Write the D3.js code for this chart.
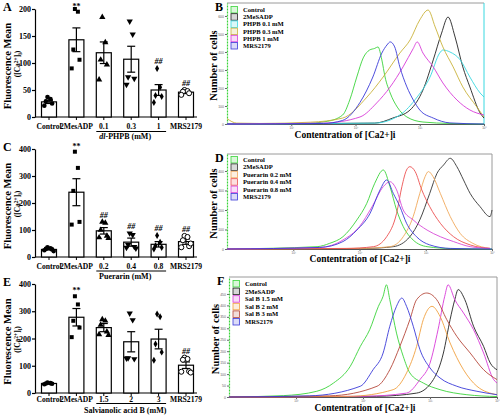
<!DOCTYPE html>
<html><head><meta charset="utf-8">
<script src="https://cdn.jsdelivr.net/npm/d3@7"></script>
<style>body{margin:0;background:#fff}svg{display:block}</style>
</head><body>
<script>
// ---------- Bar chart data ----------
const catsA = ["Control","2MesADP","0.1","0.3","1","MRS2179"];
const meansA = [28,143,119,107,50,46];
const semA = [3,22,20,24,10,2.5];
const ptsA = [[37,33,29,25,21],[200,195,125,106,90],[185,138,106,97,69],[177,153,74,71,60],[90,55,40,38,27],[50,48,47,44,41]];
const annA = ["","**","","","##","##"];
const yTicksA = [0,50,100,150,200];

const catsC = ["Control","2MesADP","0.2","0.4","0.8","MRS2179"];
const meansC = [28,240,97,55,47,57];
const semC = [2,50,12,15,10,10];
const ptsC = [[36,32,30,28,25,22],[390,330,245,130,120],[130,126,100,78,72,70],[88,82,45,38,35,32],[80,55,42,35,30],[78,74,62,40,36,50]];
const annC = ["","**","##","##","##","##"];
const yTicksC = [0,100,200,300,400];

const catsE = ["Control","2MesADP","1.5","2","3","MRS2179"];
const meansE = [35,278,240,188,198,102];
const semE = [2,32,15,37,36,12];
const ptsE = [[38,36,35,34,32],[355,325,265,240,205],[270,265,250,225,215,212],[292,268,128,125,127],[290,280,180,150,120],[130,125,122,80,78,75]];
const annE = ["","**","","","","##"];
const yTicksE = [0,100,200,300,400];

// ---------- Histogram data: [log10 concentration, number of cells] ----------
const namesB = ["Control","2MeSADP","PHPB 0.1 mM","PHPB 0.3 mM","PHPB 1 mM","MRS2179"];
const colorsB = ["#3ad43a","#222222","#38d8e0","#c9b23a","#d83ad8","#3a3ad8"];
const histB = [
 [[0,0],[1.2,3],[1.56,15],[1.8,50],[1.91,133],[2.02,261],[2.12,367],[2.22,411],[2.3,420],[2.35,428],[2.41,356],[2.46,261],[2.54,172],[2.65,94],[2.8,39],[3.05,11],[3.47,3],[4,0]],
 [[0,0],[2.3,5],[2.58,33],[2.85,78],[3.05,189],[3.21,356],[3.34,505],[3.44,594],[3.55,483],[3.67,317],[3.78,206],[3.94,61],[4,33]],
 [[0,0],[2.3,5],[2.69,50],[2.96,150],[3.16,261],[3.31,394],[3.36,411],[3.47,400],[3.63,356],[3.78,261],[3.94,172],[4,150]],
 [[0,30],[0.15,5],[0.5,3],[1.3,10],[1.8,33],[2.18,150],[2.43,261],[2.69,394],[2.85,467],[3.0,578],[3.13,633],[3.24,539],[3.36,428],[3.52,317],[3.67,206],[3.89,94],[4,39]],
 [[0,0],[1.5,5],[2.07,39],[2.33,117],[2.54,206],[2.74,317],[2.9,420],[2.96,456],[3.05,394],[3.21,317],[3.36,228],[3.58,133],[3.78,78],[4,50]],
 [[0,0],[1.5,3],[1.8,20],[2.07,120],[2.27,261],[2.41,394],[2.49,439],[2.54,456],[2.61,428],[2.69,317],[2.8,206],[2.9,133],[3.0,78],[3.21,33],[3.47,6],[4,0]]
];
const yTicksB = [0,100,200,300,400,500,600];

const namesD = ["Control","2MeSADP","Puerarin 0.2 mM","Puerarin 0.4 mM","Puerarin 0.8 mM","MRS2179"];
const colorsD = ["#3ad43a","#333333","#f0a85a","#ec5050","#d84ad8","#3a3ad8"];
const histD = [
 [[0,0],[1.36,12],[1.55,29],[1.75,63],[1.96,149],[2.11,234],[2.23,337],[2.36,405],[2.46,320],[2.56,200],[2.66,115],[2.81,46],[3.02,12],[3.4,2],[4,0]],
 [[0,0],[2.1,3],[2.51,12],[2.76,63],[2.91,149],[3.06,285],[3.17,388],[3.27,431],[3.37,465],[3.47,422],[3.57,354],[3.67,285],[3.82,217],[3.97,166],[4,200]],
 [[0,0],[2.0,3],[2.46,12],[2.66,63],[2.81,166],[2.91,285],[2.99,371],[3.04,397],[3.11,371],[3.22,285],[3.37,166],[3.52,80],[3.71,29],[3.97,3]],
 [[0,0],[1.8,3],[2.21,12],[2.41,63],[2.56,183],[2.64,320],[2.71,405],[2.76,422],[2.84,397],[2.94,303],[3.06,217],[3.22,132],[3.42,63],[3.67,21],[3.97,3]],
 [[0,0],[1.4,8],[1.75,46],[2.0,115],[2.19,217],[2.36,320],[2.46,345],[2.56,303],[2.66,200],[2.81,149],[3.02,97],[3.22,63],[3.42,38],[3.67,12],[3.97,3]],
 [[0,0],[1.4,8],[1.75,38],[1.96,97],[2.16,183],[2.31,303],[2.41,354],[2.51,285],[2.61,217],[2.71,132],[2.86,63],[3.06,21],[3.37,3],[4,0]]
];
const yTicksD = [0,100,200,300,400];

const namesF = ["Control","2MeSADP","Sal B 1.5 mM","Sal B 2 mM","Sal B 3 mM","MRS2179"];
const colorsF = ["#3ad43a","#222222","#d83ad8","#f0a040","#b5473a","#3a3ad8"];
const histF = [
 [[0,0],[0.81,6],[1.31,25],[1.56,61],[1.81,134],[1.96,221],[2.1,294],[2.23,396],[2.3,440],[2.35,490],[2.4,425],[2.5,279],[2.6,178],[2.7,105],[2.9,61],[3.15,32],[3.55,10],[4,2]],
 [[0,0],[2.2,3],[2.8,17],[3.05,76],[3.2,192],[3.3,338],[3.37,425],[3.42,469],[3.52,425],[3.65,309],[3.8,221],[3.9,148],[4,119]],
 [[0,0],[2.0,3],[2.65,17],[2.85,76],[3.0,148],[3.12,294],[3.22,440],[3.27,490],[3.37,425],[3.5,367],[3.65,294],[3.8,192],[3.95,76],[4,61]],
 [[0,0],[1.8,3],[2.45,32],[2.65,105],[2.8,221],[2.9,338],[3.03,396],[3.15,352],[3.3,236],[3.5,119],[3.7,47],[4,10]],
 [[0,0],[1.5,5],[2.21,47],[2.4,119],[2.55,221],[2.7,338],[2.8,425],[2.95,454],[3.1,425],[3.25,338],[3.4,265],[3.6,192],[3.8,119],[4,76]],
 [[0,0],[1.2,5],[1.96,47],[2.15,119],[2.3,192],[2.4,309],[2.5,396],[2.58,432],[2.65,396],[2.75,309],[2.85,207],[3.0,127],[3.15,83],[3.4,47],[3.7,25],[4,10]]
];
const yTicksF = [0,50,100,150,200,250,300,350,400,450];
const xTickVals = [10,100,1000,10000];

// ---------- Drawing ----------
const SERIF = "'Liberation Serif','Times New Roman',serif";
const svg = d3.select("body").append("svg").attr("width",500).attr("height",416)
  .style("font-family",SERIF);
svg.append("rect").attr("width",500).attr("height",416).attr("fill","#fff");

const markerTypes = [d3.symbolCircle,d3.symbolSquare,d3.symbolTriangle,d3.symbolTriangle,d3.symbolDiamond,d3.symbolCircle];

function barPanel(o){
  const g = svg.append("g");
  const x = d3.scalePoint().domain(o.cats).range([49,186]);
  const y = d3.scaleLinear().domain([0,o.ymax]).range([o.yb,o.yt]);
  const bw = 15;
  const ya = g.append("g").attr("transform","translate(35,0)")
    .call(d3.axisLeft(y).tickValues(o.yticks).tickSize(3).tickSizeOuter(0).tickPadding(1));
  ya.selectAll("path,line").attr("stroke","#000").attr("stroke-width",1.2);
  ya.selectAll("text").style("font-family",SERIF).style("font-weight","bold").style("font-size","8px").attr("fill","#000");
  g.append("line").attr("x1",35).attr("x2",x.range()[1]+11).attr("y1",o.yb).attr("y2",o.yb)
    .attr("stroke","#000").attr("stroke-width",1.2);
  g.selectAll("rect.bar").data(o.means).join("rect")
    .attr("x",(d,i)=>x(o.cats[i])-bw/2).attr("width",bw)
    .attr("y",d=>y(d)).attr("height",d=>o.yb-y(d))
    .attr("fill","#fff").attr("stroke","#000").attr("stroke-width",1.2);
  o.cats.forEach((c,i)=>{
    g.append("line").attr("x1",x(c)).attr("x2",x(c)).attr("y1",o.yb).attr("y2",o.yb+3).attr("stroke","#000").attr("stroke-width",1);
    g.append("text").attr("x",x(c)).attr("y",o.yb+o.labOff).attr("text-anchor","middle")
      .style("font-size","7.6px").style("font-weight","bold").text(c);
  });
  o.means.forEach((m,i)=>{
    const cx = x(o.cats[i]);
    const s = o.sem[i];
    g.append("line").attr("x1",cx).attr("x2",cx).attr("y1",y(m+s)).attr("y2",y(m-s)).attr("stroke","#000").attr("stroke-width",1.2);
    [m+s,m-s].forEach(v=>g.append("line").attr("x1",cx-4).attr("x2",cx+4).attr("y1",y(v)).attr("y2",y(v)).attr("stroke","#000").attr("stroke-width",1.2));
  });
  o.pts.forEach((arr,i)=>{
    const cx = x(o.cats[i]);
    const n = arr.length;
    arr.forEach((v,j)=>{
      const off = (j%2? 1 : -1) * (1.5 + 1.6*Math.floor(j/2)) * (n>1?1:0);
      const sym = d3.symbol().type(markerTypes[i]).size(i===1?16:(i===4?14:(i===5?20:17)));
      const p = g.append("path").attr("d",sym())
        .attr("transform",`translate(${cx+off},${y(v)})${i===3?" rotate(180)":""}`);
      if(i===5) p.attr("fill","#fff").attr("stroke","#000").attr("stroke-width",1);
      else p.attr("fill","#000");
    });
  });
  o.ann.forEach((a,i)=>{
    if(!a) return;
    const top = Math.max(d3.max(o.pts[i]), o.means[i]+o.sem[i]);
    const yy = a==="**" ? Math.max(9, y(top)-3) : y(top)-4;
    g.append("text").attr("x",x(o.cats[i])).attr("y",yy).attr("text-anchor","middle")
      .style("font-size","8px").style("font-weight","bold").style("font-style",a==="##"?"italic":"normal").text(a);
  });
  const gx1 = x(o.cats[2])-bw/2, gx2 = x(o.cats[4])+bw/2;
  g.append("line").attr("x1",gx1).attr("x2",gx2).attr("y1",o.yb+o.lineOff).attr("y2",o.yb+o.lineOff).attr("stroke","#000").attr("stroke-width",1);
  const gl = g.append("text").attr("x",(gx1+gx2)/2-6).attr("y",o.yb+o.groupOff).attr("text-anchor","middle")
    .style("font-size","8px").style("font-weight","bold");
  if(o.groupItalic) gl.append("tspan").style("font-style","italic").text(o.groupItalic);
  gl.append("tspan").text(o.group);
  const cy = (o.yb+o.yt)/2+3;
  g.append("text").attr("transform",`translate(11,${cy}) rotate(-90)`).attr("text-anchor","middle")
    .style("font-size","10.5px").style("font-weight","bold").text("Fluorescence Mean");
  const t2 = g.append("text").attr("transform",`translate(20,${cy-2}) rotate(-90)`).attr("text-anchor","middle")
    .style("font-size","7.5px").style("font-weight","bold");
  t2.append("tspan").text("([Ca");
  t2.append("tspan").attr("dy",-2.5).style("font-size","5.5px").text("2+");
  t2.append("tspan").attr("dy",2.5).text("]");
  t2.append("tspan").attr("dy",1.5).style("font-size","5.5px").text("i");
  t2.append("tspan").attr("dy",-1.5).text(")");
  g.append("text").attr("x",3).attr("y",o.yt+2).style("font-size","12px").style("font-weight","bold").text(o.letter);
}

barPanel({cats:catsA,means:meansA,sem:semA,pts:ptsA,ann:annA,yticks:yTicksA,ymax:200,yb:117,yt:9,letter:"A",groupItalic:"dl",group:"-PHPB (mM)",labOff:12,lineOff:14.5,groupOff:22});
barPanel({cats:catsC,means:meansC,sem:semC,pts:ptsC,ann:annC,yticks:yTicksC,ymax:400,yb:257,yt:149,letter:"C",group:"Puerarin (mM)",labOff:12,lineOff:14,groupOff:21.5});
barPanel({cats:catsE,means:meansE,sem:semE,pts:ptsE,ann:annE,yticks:yTicksE,ymax:400,yb:393,yt:284,letter:"E",group:"Salvianolic acid B (mM)",labOff:8.5,lineOff:10.5,groupOff:19.5});

const supDigits = {1:"¹",2:"²",3:"³",4:"⁴"};
function histPanel(o){
  const g = svg.append("g");
  const x = d3.scaleLog().domain([1,1e4]).range([o.x0,o.x1]);
  const y = d3.scaleLinear().domain([0,o.ymax]).range([o.yb,o.yt]);
  g.append("line").attr("x1",o.x0).attr("x2",o.x1).attr("y1",o.yt).attr("y2",o.yt).attr("stroke","#9a9a9a").attr("stroke-width",1);
  g.append("line").attr("x1",o.x1).attr("x2",o.x1).attr("y1",o.yt).attr("y2",o.yb).attr("stroke",o.rightColor||"#9a9a9a").attr("stroke-width",1);
  const ya = g.append("g").attr("transform",`translate(${o.x0},0)`)
    .call(d3.axisLeft(y).tickValues(o.yticks).tickSize(2).tickPadding(1).tickSizeOuter(0));
  ya.select(".domain").attr("stroke","#3ad43a").attr("stroke-width",1.2).attr("stroke-dasharray","2,1");
  ya.selectAll(".tick line").attr("stroke","#666");
  ya.selectAll("text").style("font-size","3.5px").attr("fill","#666");
  const xa = g.append("g").attr("transform",`translate(0,${o.yb})`)
    .call(d3.axisBottom(x).tickValues(xTickVals).tickSize(2).tickPadding(1).tickSizeOuter(0)
      .tickFormat(d=>"10"+supDigits[Math.round(Math.log10(d))]));
  xa.select(".domain").attr("stroke","#555").attr("stroke-width",1);
  xa.selectAll(".tick line").attr("stroke","#666");
  xa.selectAll("text").style("font-size","3px").attr("fill","#666");
  const line = d3.line().x(d=>x(Math.pow(10,d[0]))).y(d=>y(d[1])).curve(d3.curveMonotoneX);
  o.hist.forEach((h,i)=>{
    g.append("path").attr("d",line(h)).attr("fill","none").attr("stroke",o.colors[i]).attr("stroke-width",0.9);
  });
  o.names.forEach((nm,i)=>{
    const ly = o.legY + i*o.legStep;
    g.append("rect").attr("x",o.x0+4).attr("y",ly-3.5).attr("width",6.5).attr("height",6.5)
      .attr("fill",d3.color(o.colors[i]).copy({opacity:0.18})).attr("stroke",o.colors[i]).attr("stroke-width",0.8);
    g.append("text").attr("x",o.x0+16).attr("y",ly+2).style("font-size","6.6px").style("font-weight","bold").text(nm);
  });
  g.append("text").attr("x",o.xlabX).attr("y",o.xlabY).attr("text-anchor","middle")
    .style("font-size","9.5px").style("font-weight","bold").text("Contentration of [Ca2+]i");
  g.append("text").attr("transform",`translate(${o.x0-10},${(o.yt+o.yb)/2+2}) rotate(-90)`).attr("text-anchor","middle")
    .style("font-size","10.5px").style("font-weight","bold").text("Number of cells");
  g.append("text").attr("x",o.x0-12).attr("y",o.yt+8).style("font-size","12px").style("font-weight","bold").text(o.letter);
}

histPanel({hist:histB,colors:colorsB,names:namesB,yticks:yTicksB,ymax:672,x0:227,x1:484,yb:124,yt:3,rightColor:"#38d8e0",legY:10,legStep:7.2,xlabX:345,xlabY:138,letter:"B"});
histPanel({hist:histD,colors:colorsD,names:namesD,yticks:yTicksD,ymax:487,x0:227,x1:492,yb:249,yt:154,legY:160,legStep:7.4,xlabX:360,xlabY:262,letter:"D"});
histPanel({hist:histF,colors:colorsF,names:namesF,yticks:yTicksF,ymax:524,x0:229,x1:497,yb:397,yt:277,legY:284,legStep:7.6,xlabX:365,xlabY:411,letter:"F"});
</script>
</body></html>
